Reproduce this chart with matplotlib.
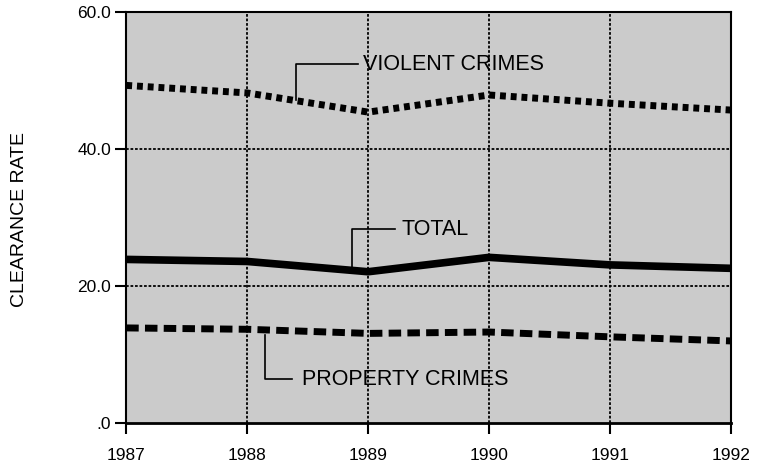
import numpy as np
import matplotlib
matplotlib.use("Agg")
import matplotlib.pyplot as plt

plt.rcParams['font.family'] = ['Liberation Sans', 'DejaVu Sans']

years = [1987, 1988, 1989, 1990, 1991, 1992]
violent = [49.3, 48.2, 45.4, 47.9, 46.7, 45.7]
total = [23.9, 23.6, 22.1, 24.2, 23.1, 22.6]
property_ = [13.9, 13.7, 13.1, 13.3, 12.6, 12.0]
ytick_vals = [0, 20, 40, 60]
ytick_labels = ['.0', '20.0', '40.0', '60.0']

fig = plt.figure(figsize=(7.65, 4.65), dpi=100)
ax = fig.add_axes([0.165, 0.090, 0.7905, 0.884])
ax.set_facecolor('#cbcbcb')

ax.set_xlim(1987, 1992)
ax.set_ylim(0, 60)

# grid
for x in years[1:-1]:
    ax.axvline(x, color='black', lw=1.3, ls=(0, (1.5, 1)), zorder=1)
for y in [20, 40]:
    ax.axhline(y, color='black', lw=1.3, ls=(0, (1.5, 1)), zorder=1)

ax.plot(years, violent, color='black', lw=5, ls=(0, (0.85, 0.7)),
        solid_capstyle='butt', dash_capstyle='butt', zorder=3)
ax.plot(years, total, color='black', lw=5.5, solid_capstyle='butt', zorder=3)
ax.plot(years, property_, color='black', lw=5, ls=(0, (1.8, 0.9)),
        dash_capstyle='butt', zorder=3)

# leader lines and labels
ax.plot([1988.40, 1988.40, 1988.92], [47.2, 52.4, 52.4], color='black', lw=1.2, zorder=4)
ax.text(1988.96, 52.4, 'VIOLENT CRIMES', fontsize=15.5, va='center', ha='left')
ax.plot([1988.87, 1988.87, 1989.22], [22.5, 28.4, 28.4], color='black', lw=1.2, zorder=4)
ax.text(1989.28, 28.2, 'TOTAL', fontsize=15.5, va='center', ha='left')
ax.plot([1988.15, 1988.15, 1988.37], [12.8, 6.5, 6.5], color='black', lw=1.2, zorder=4)
ax.text(1988.45, 6.3, 'PROPERTY CRIMES', fontsize=15.5, va='center', ha='left')

ax.set_xticks(years)
ax.set_xticklabels([str(y) for y in years], fontsize=12.5)
ax.set_yticks(ytick_vals)
ax.set_yticklabels(ytick_labels, fontsize=12.5)
ax.tick_params(axis='both', direction='out', length=8, width=1.5, color='black')
ax.tick_params(axis='x', pad=10)
ax.tick_params(axis='y', pad=3)

for s in ax.spines.values():
    s.set_linewidth(1.5)
ax.spines['bottom'].set_linewidth(2)

fig.text(0.026, 0.527, 'CLEARANCE RATE', rotation=90, fontsize=14, va='center', ha='center')

fig.savefig('out.png', dpi=100)
